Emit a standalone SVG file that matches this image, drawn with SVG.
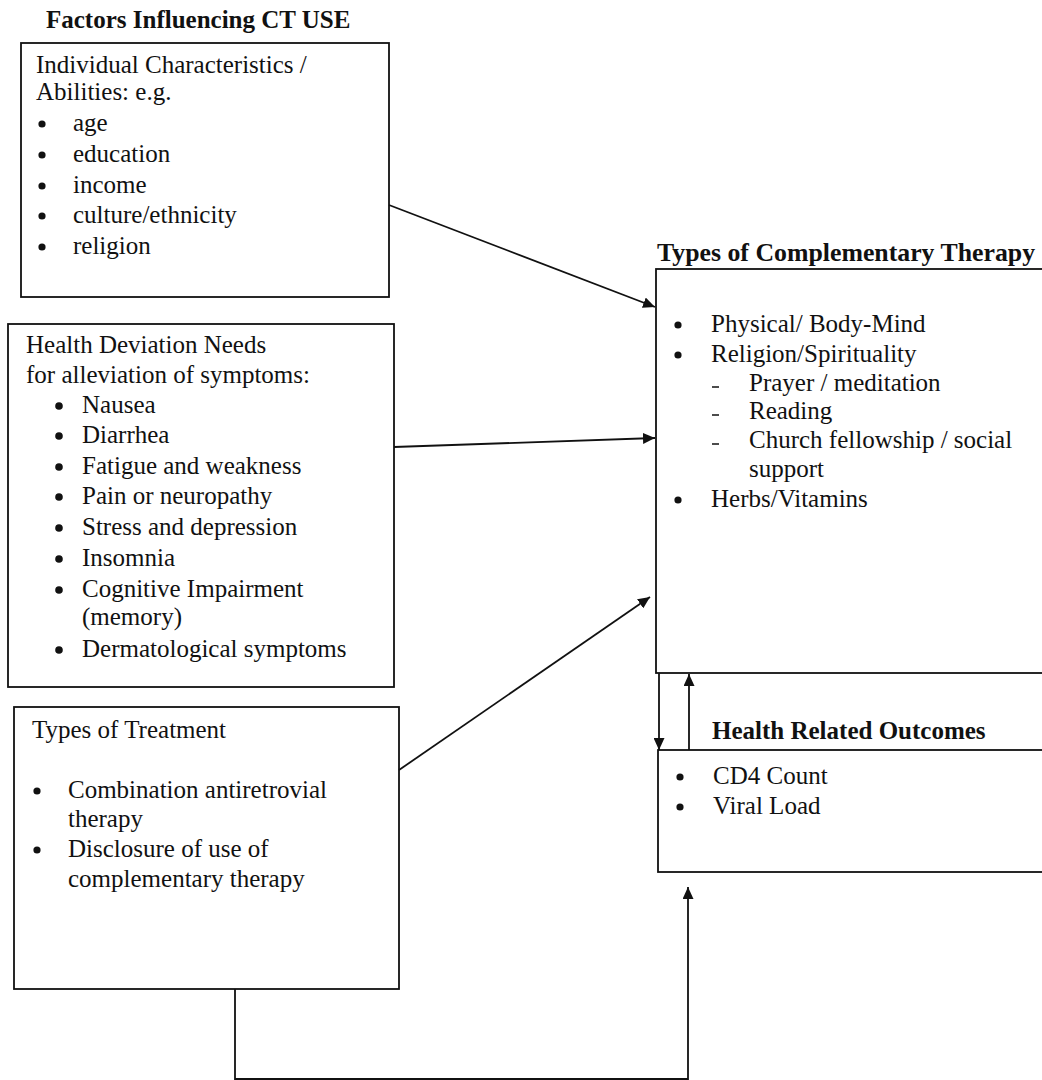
<svg xmlns="http://www.w3.org/2000/svg" width="1042" height="1080" viewBox="0 0 1042 1080">
<style>
text{font-family:"Liberation Serif","Times New Roman",serif;font-size:25px;fill:#111}
.b{font-weight:bold}
.tl{font-size:25.8px}
.box{fill:none;stroke:#111;stroke-width:1.8}
.con{fill:none;stroke:#111;stroke-width:1.8}
.dot{fill:#111}
.dash{stroke:#111;stroke-width:1.5}
</style>
<defs>
<marker id="ah" markerUnits="userSpaceOnUse" markerWidth="13" markerHeight="11" refX="12" refY="5.5" orient="auto">
<path d="M0,0 L12,5.5 L0,11 z" fill="#111"/>
</marker>
</defs>
<rect width="1042" height="1080" fill="#fff"/>

<g id="title-factors"><text class="b" x="46" y="28">Factors Influencing CT USE</text></g>

<g id="individual">
<rect class="box" x="21" y="43" width="368" height="254"/>
<text x="36" y="73">Individual Characteristics /</text>
<text x="36" y="100">Abilities: e.g.</text>
<circle class="dot" cx="42" cy="124" r="3.6"/><text x="73" y="131">age</text>
<circle class="dot" cx="42" cy="155" r="3.6"/><text x="73" y="162">education</text>
<circle class="dot" cx="42" cy="186" r="3.6"/><text x="73" y="193">income</text>
<circle class="dot" cx="42" cy="216" r="3.6"/><text x="73" y="223">culture/ethnicity</text>
<circle class="dot" cx="42" cy="247" r="3.6"/><text x="73" y="254">religion</text>
</g>

<g id="health-deviation">
<rect class="box" x="8" y="324" width="386" height="363"/>
<text x="26" y="353">Health Deviation Needs</text>
<text x="26" y="383">for alleviation of symptoms:</text>
<circle class="dot" cx="59" cy="406" r="3.8"/><text x="82" y="413">Nausea</text>
<circle class="dot" cx="59" cy="436" r="3.8"/><text x="82" y="443">Diarrhea</text>
<circle class="dot" cx="59" cy="467" r="3.8"/><text x="82" y="474">Fatigue and weakness</text>
<circle class="dot" cx="59" cy="497" r="3.8"/><text x="82" y="504">Pain or neuropathy</text>
<circle class="dot" cx="59" cy="528" r="3.8"/><text x="82" y="535">Stress and depression</text>
<circle class="dot" cx="59" cy="559" r="3.8"/><text x="82" y="566">Insomnia</text>
<circle class="dot" cx="59" cy="590" r="3.8"/><text x="82" y="597">Cognitive Impairment</text>
<text x="82" y="625">(memory)</text>
<circle class="dot" cx="59" cy="650" r="3.8"/><text x="82" y="657">Dermatological symptoms</text>
</g>

<g id="treatment">
<rect class="box" x="14" y="707" width="385" height="282"/>
<text x="32" y="738">Types of Treatment</text>
<circle class="dot" cx="37" cy="791" r="3.6"/><text x="68" y="798">Combination antiretrovial</text>
<text x="68" y="827">therapy</text>
<circle class="dot" cx="37" cy="850" r="3.6"/><text x="68" y="857">Disclosure of use of</text>
<text x="68" y="887">complementary therapy</text>
</g>

<g id="complementary">
<text class="b tl" x="657" y="261">Types of Complementary Therapy</text>
<rect class="box" x="656" y="269" width="400" height="404"/>
<circle class="dot" cx="678" cy="325" r="3.6"/><text x="711" y="332">Physical/ Body-Mind</text>
<circle class="dot" cx="678" cy="355" r="3.6"/><text x="711" y="362">Religion/Spirituality</text>
<line class="dash" x1="712" y1="387" x2="719" y2="387"/><text x="749" y="391">Prayer / meditation</text>
<line class="dash" x1="712" y1="415" x2="719" y2="415"/><text x="749" y="419">Reading</text>
<line class="dash" x1="712" y1="444" x2="719" y2="444"/><text x="749" y="448">Church fellowship / social</text>
<text x="749" y="477">support</text>
<circle class="dot" cx="678" cy="500" r="3.6"/><text x="711" y="507">Herbs/Vitamins</text>
</g>

<g id="outcomes">
<text class="b" x="712" y="739">Health Related Outcomes</text>
<rect class="box" x="658" y="750" width="400" height="122"/>
<circle class="dot" cx="680" cy="777" r="3.6"/><text x="713" y="784">CD4 Count</text>
<circle class="dot" cx="680" cy="807" r="3.6"/><text x="713" y="814">Viral Load</text>
</g>

<g id="connectors">
<line class="con" x1="389" y1="205" x2="655" y2="307" marker-end="url(#ah)"/>
<line class="con" x1="394" y1="447" x2="655" y2="438" marker-end="url(#ah)"/>
<line class="con" x1="399" y1="770" x2="650" y2="597" marker-end="url(#ah)"/>
<line class="con" x1="659" y1="673" x2="659" y2="750" marker-end="url(#ah)"/>
<line class="con" x1="689" y1="750" x2="689" y2="674" marker-end="url(#ah)"/>
<path class="con" d="M235,989 V1079 H688 V887" marker-end="url(#ah)"/>
</g>
</svg>
